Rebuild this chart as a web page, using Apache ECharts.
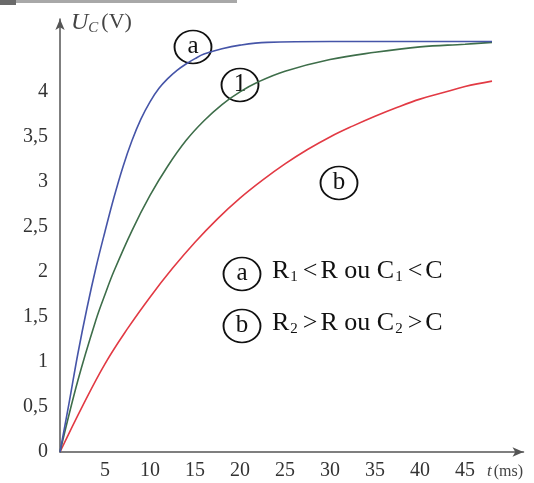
<!DOCTYPE html>
<html><head><meta charset="utf-8">
<script src="https://cdn.jsdelivr.net/npm/echarts@6/dist/echarts.min.js"></script>
<style>html,body{margin:0;padding:0;background:#fff}#c{width:534px;height:483px}</style>
</head><body><div id="c"></div>
<script>
// time (ms) and voltage (V)
const tBlue  = [0, 1, 2, 3, 4, 5, 6, 7, 8, 9, 10, 11, 12, 13, 14, 15, 16, 18, 20, 23, 30, 40, 48];
const vBlue  = [0, 0.54, 1.1, 1.6, 2.05, 2.45, 2.83, 3.17, 3.46, 3.7, 3.89, 4.04, 4.15, 4.24, 4.31, 4.37, 4.42, 4.48, 4.52, 4.55, 4.56, 4.56, 4.56];
const tGreen = [0, 2, 4, 5, 6, 8, 10, 12, 14, 16, 18, 20, 22, 25, 30, 35, 40, 45, 48];
const vGreen = [0, 0.8, 1.47, 1.75, 2.01, 2.46, 2.85, 3.18, 3.46, 3.68, 3.86, 4.0, 4.11, 4.23, 4.36, 4.44, 4.5, 4.53, 4.55];
const tRed   = [0, 2.5, 5, 7.5, 10, 12.5, 15, 17.5, 20, 22.5, 25, 27.5, 30, 32.5, 35, 37.5, 40, 42.5, 45, 48];
const vRed   = [0, 0.51, 0.98, 1.37, 1.72, 2.04, 2.33, 2.59, 2.82, 3.02, 3.2, 3.36, 3.5, 3.62, 3.73, 3.83, 3.92, 3.99, 4.06, 4.12];
const xTickLabels = [5, 10, 15, 20, 25, 30, 35, 40, 45];
const yTickLabels = ['0', '0,5', '1', '1,5', '2', '2,5', '3', '3,5', '4'];

const pairs = (ts, vs) => ts.map((t, i) => [t, vs[i]]);
const serif = '"Liberation Serif", "DejaVu Serif", serif';
const axisColor = '#555';

function circled(cx, cy, label) {
  return [
    {type: 'circle', x: cx, y: cy, scaleX: 1.12, shape: {cx: 0, cy: 0, r: 16.5}, style: {fill: 'none', stroke: '#111', lineWidth: 1.7}},
    {type: 'text', x: cx, y: cy - 1, style: {text: label, fontFamily: serif, fontSize: 25, fill: '#111', align: 'center', verticalAlign: 'middle'}}
  ];
}
const legRich = {
  n: {fontFamily: serif, fontSize: 26, fill: '#111', lineHeight: 30},
  s: {fontFamily: serif, fontSize: 15, fill: '#111', padding: [13, 2, 0, 1], lineHeight: 30},
  g: {fontFamily: serif, fontSize: 26, fill: '#111', lineHeight: 30, padding: [0, 3, 0, 3]}
};

const chart = echarts.init(document.getElementById('c'), null, {renderer: 'canvas'});
chart.setOption({
  backgroundColor: '#fff',
  animation: false,
  grid: {left: 60, top: 19, right: 10.5, bottom: 31, containLabel: false},
  xAxis: {
    type: 'value', min: 0, max: 51.5, interval: 5,
    axisLine: {lineStyle: {color: axisColor, width: 1.5}, symbol: ['none', 'arrow'], symbolSize: [7, 11]},
    axisTick: {show: false}, splitLine: {show: false},
    axisLabel: {
      margin: 9, color: '#333', fontFamily: serif, fontSize: 20,
      formatter: v => (xTickLabels.indexOf(v) >= 0 ? String(v) : '')
    }
  },
  yAxis: {
    type: 'value', min: 0, max: 4.81, interval: 0.5,
    axisLine: {lineStyle: {color: axisColor, width: 1.5}, symbol: ['none', 'arrow'], symbolSize: [7, 11]},
    axisTick: {show: false}, splitLine: {show: false},
    axisLabel: {
      margin: 12, color: '#333', fontFamily: serif, fontSize: 20,
      formatter: v => {
        const k = Math.round(v / 0.5);
        if (Math.abs(v - k * 0.5) > 1e-6) return '';
        return yTickLabels[k] !== undefined ? yTickLabels[k] : '';
      }
    }
  },
  series: [
    {type: 'line', data: pairs(tRed, vRed), smooth: 0.4, showSymbol: false, lineStyle: {color: '#e23a44', width: 1.6}, z: 3},
    {type: 'line', data: pairs(tGreen, vGreen), smooth: 0.4, showSymbol: false, lineStyle: {color: '#3e6e4a', width: 1.6}, z: 4},
    {type: 'line', data: pairs(tBlue, vBlue), smooth: 0.4, showSymbol: false, lineStyle: {color: '#4655a8', width: 1.6}, z: 5}
  ],
  graphic: [
    {type: 'rect', shape: {x: 0, y: 0, width: 237, height: 3}, style: {fill: '#a8a8a8'}},
    {type: 'rect', shape: {x: 0, y: 0, width: 16, height: 5}, style: {fill: '#6a6a6a'}},
    {type: 'text', left: 71, top: 9, style: {
      text: '{u|U}{c|C}{v|(V)}',
      rich: {
        u: {fontFamily: serif, fontStyle: 'italic', fontSize: 24, fill: '#444', lineHeight: 26},
        c: {fontFamily: serif, fontStyle: 'italic', fontSize: 15, fill: '#444', padding: [12, 3, 0, 0], lineHeight: 26},
        v: {fontFamily: serif, fontSize: 22, fill: '#444', lineHeight: 26}
      }
    }},
    {type: 'text', left: 487, top: 463, style: {
      text: '{t|t}{m|(ms)}',
      rich: {
        t: {fontFamily: serif, fontStyle: 'italic', fontSize: 17, fill: '#444', padding: [0, 2, 0, 0]},
        m: {fontFamily: serif, fontSize: 16, fill: '#444'}
      }
    }},
    ...circled(193, 47, 'a'),
    ...circled(240, 85, '1'),
    ...circled(339, 183, 'b'),
    ...circled(242, 274, 'a'),
    ...circled(242, 326, 'b'),
    {type: 'text', left: 272, top: 257, style: {text: '{n|R}{s|1}{g|<}{n|R ou C}{s|1}{g|<}{n|C}', rich: legRich}},
    {type: 'text', left: 272, top: 309, style: {text: '{n|R}{s|2}{g|>}{n|R ou C}{s|2}{g|>}{n|C}', rich: legRich}}
  ]
});
</script>
</body></html>
